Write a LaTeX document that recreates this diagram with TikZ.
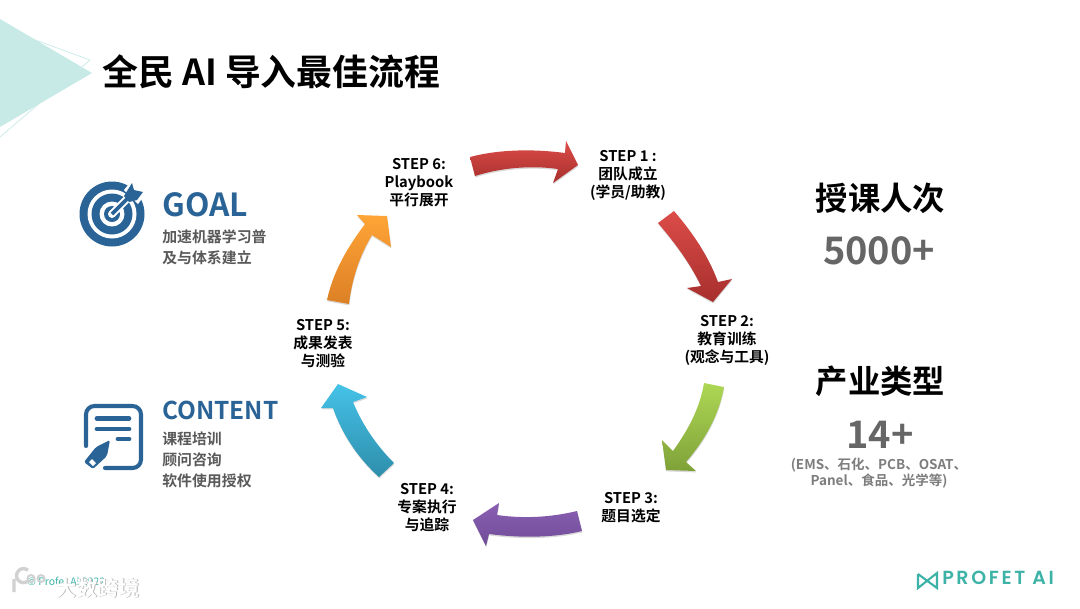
\documentclass[tikz,border=0pt]{standalone}
\usepackage{fontspec}
\setmainfont{Noto Sans CJK SC}[BoldFont={Noto Sans CJK SC Bold}]
\newfontfamily\logofont{Poppins}[BoldFont={Poppins SemiBold},LetterSpace=14]
\usetikzlibrary{shadows}
\definecolor{iconblue}{HTML}{2A6496}
\definecolor{logoteal}{HTML}{3DB2A6}
\definecolor{paleteal}{HTML}{C8EAE6}
\definecolor{textgray}{HTML}{595959}
\definecolor{numgray}{HTML}{666666}
\definecolor{redtop}{HTML}{DC4C48}
\definecolor{redbot}{HTML}{A62F2D}
\definecolor{greentop}{HTML}{AED755}
\definecolor{greenbot}{HTML}{7FA238}
\definecolor{violettop}{HTML}{8A5FB3}
\definecolor{violetbot}{HTML}{704D98}
\definecolor{bluetop}{HTML}{45C2E8}
\definecolor{bluebot}{HTML}{2E8EAB}
\definecolor{orangetop}{HTML}{FFA436}
\definecolor{orangebot}{HTML}{DC8026}
\tikzset{
    steparrow/.style={draw=none, drop shadow={shadow xshift=0.2pt, shadow yshift=-1pt, opacity=0.15, fill=black}},
    steplabel/.style={align=center, inner sep=0pt, font=\bfseries\fontsize{10.5}{12.8}\selectfont},
    sidelabel/.style={anchor=west, inner sep=0pt, align=left, text=textgray, font=\bfseries\fontsize{10.6}{14.9}\selectfont},
    headlabel/.style={inner sep=0pt, font=\bfseries\fontsize{23}{26}\selectfont},
    numlabel/.style={inner sep=0pt, text=numgray, font=\bfseries\fontsize{27}{30}\selectfont},
}
\begin{document}
\begin{tikzpicture}[x=0.025cm, y=-0.025cm]
    \useasboundingbox (0,0) rectangle (1080,608);
    % corner triangles
    \fill[paleteal] (0,19) -- (92,73) -- (0,127) -- cycle;
    \draw[paleteal, line width=0.5pt] (0,27) -- (90,60) -- (0,137);
    \node[inner sep=0pt, anchor=west, font=\bfseries\fontsize{25.5}{30}\selectfont] (title) at (102,72) {全民 AI 导入最佳流程};
    % the six arrows
    \path[steparrow, top color=redtop, bottom color=redbot] (470,157) .. controls (500,149) and (535,149) .. (565,153) -- (566,141) -- (578,165) -- (553,183) -- (558,169) .. controls (530,165) and (500,168) .. (475,176) -- cycle;
    \path[steparrow, top color=redtop, bottom color=redbot] (658,223) -- (674,211) .. controls (692,232) and (708,255) .. (718,282) -- (732,279) -- (713,302) -- (687,288) -- (701,286) .. controls (690,263) and (675,243) .. (658,223) -- cycle;
    \path[steparrow, top color=greentop, bottom color=greenbot] (704,383) -- (724,387) .. controls (719,415) and (705,440) .. (686,462) -- (696,471) -- (666,470) -- (662,440) -- (673,451) .. controls (688,430) and (700,408) .. (704,383) -- cycle;
    \path[steparrow, top color=violettop, bottom color=violetbot] (577,511) -- (582,531) .. controls (553,538) and (520,538) .. (489,534) -- (486,546) -- (473,520) -- (499,503) -- (497,515) .. controls (525,519) and (552,517) .. (577,511) -- cycle;
    \path[steparrow, top color=bluetop, bottom color=bluebot] (394,463) -- (379,477) .. controls (358,458) and (342,434) .. (333,408) -- (321,408) -- (338,384) -- (367,397) -- (353,402) .. controls (362,424) and (376,445) .. (394,463) -- cycle;
    \path[steparrow, top color=orangetop, bottom color=orangebot] (327,300) -- (349,304) .. controls (352,278) and (360,255) .. (372,235) -- (391,247) -- (387,216) -- (357,215) -- (365,224) .. controls (347,248) and (333,272) .. (327,300) -- cycle;
    % steps
    \node[steplabel] (stepone) at (628,175.5) {STEP 1 :\\团队成立\\(学员/助教)};
    \node[steplabel] (steptwo) at (727,340.5) {STEP 2:\\教育训练\\(观念与工具)};
    \node[steplabel] (stepthree) at (631,507.5) {STEP 3:\\题目选定};
    \node[steplabel] (stepfour) at (427,507.5) {STEP 4:\\专案执行\\与追踪};
    \node[steplabel] (stepfive) at (323,343.5) {STEP 5:\\成果发表\\与测验};
    \node[steplabel] (stepsix) at (419,182.5) {STEP 6:\\Playbook\\平行展开};
    % target icon
    \fill[iconblue] (112,214) circle[radius=32.5];
    \fill[white] (112,214) circle[radius=24.5];
    \fill[iconblue] (112,214) circle[radius=20.5];
    \fill[white] (112,214) circle[radius=12.5];
    \fill[iconblue] (112,214) circle[radius=8];
    \fill[white] (112,214) circle[radius=4];
    \draw[white, line width=5.5pt] (112,214) -- (133,193);
    \draw[iconblue, line width=2.6pt] (112,214) -- (130,196);
    \fill[white] (124,190) -- (133,179) -- (147,192) -- (138,204) -- cycle;
    \fill[iconblue] (124,196) -- (132,183) -- (134,190) -- (143,192) -- (137,200) -- (129,202) -- cycle;
    \node[anchor=west, inner sep=0pt, text=iconblue, font=\bfseries\fontsize{22.6}{26}\selectfont] (goal) at (162,205) {GOAL};
    \node[sidelabel] (goaltext) at (162,247.5) {加速机器学习普\\及与体系建立};
    % content icon
    \draw[iconblue, line width=2.9pt, line cap=round, rounded corners=6] (86,446) -- (86,406) -- (141,406) -- (141,468) -- (105,468);
    \draw[iconblue, line width=3.4pt, line cap=round] (97,418.5) -- (129,418.5);
    \draw[iconblue, line width=3.4pt, line cap=round] (97,429) -- (129,429);
    \draw[iconblue, line width=3.4pt, line cap=round] (118,439) -- (129,439);
    \fill[iconblue, rounded corners=1.5] (110,440) -- (107,456) -- (93,469) -- (84,462) -- (96,447) -- cycle;
    \fill[white] (92,459) -- (96,463) -- (93,466) -- (89,462) -- cycle;
    \node[anchor=west, inner sep=0pt, text=iconblue, font=\bfseries\fontsize{17.4}{20}\selectfont] (content) at (162,410.5) {CONTENT};
    \node[sidelabel] (contenttext) at (162,459.5) {课程培训\\顾问咨询\\软件使用授权};
    % right column
    \node[headlabel] (people) at (880.5,198.5) {授课人次};
    \node[numlabel] (peoplenum) at (879,250.5) {5000+};
    \node[headlabel] (field) at (880.5,381.5) {产业类型};
    \node[numlabel] (fieldnum) at (880,434.5) {14+};
    \node[inner sep=0pt, align=center, text=numgray!85!white, font=\bfseries\fontsize{9.6}{11.3}\selectfont] (fieldtext) at (879,473) {(EMS、石化、PCB、OSAT、\\Panel、食品、光学等)};
    % footer
    \draw[logoteal, line width=1.5pt] (918,574) -- (918,588) -- (937,573) -- (937,588) -- (918,574);
    \node[anchor=west, inner sep=0pt, text=logoteal, font=\logofont\bfseries\fontsize{13.5}{15}\selectfont] (profet) at (942,578) {PROFET AI};
    \node[anchor=west, inner sep=0pt, text=logoteal, font=\fontsize{7.4}{8}\selectfont] (copyright) at (27,581) {© Profet AI 2022};
    % watermark
    \draw[black!18, line width=2.4pt] (14,579) -- (14,592) (28,581) arc[start angle=50, end angle=310, radius=7];
    \draw[black!18, line width=1.4pt] (31,578.5) circle[radius=3.5] (41,578.5) circle[radius=3.5];
    \node[anchor=west, inner sep=0pt, text=black!30, font=\bfseries\fontsize{15}{18}\selectfont] (markshadow) at (55.8,588.8) {大数跨境};
    \node[anchor=west, inner sep=0pt, text=white, font=\bfseries\fontsize{15}{18}\selectfont] (mark) at (55,588) {大数跨境};
\end{tikzpicture}
\end{document}
